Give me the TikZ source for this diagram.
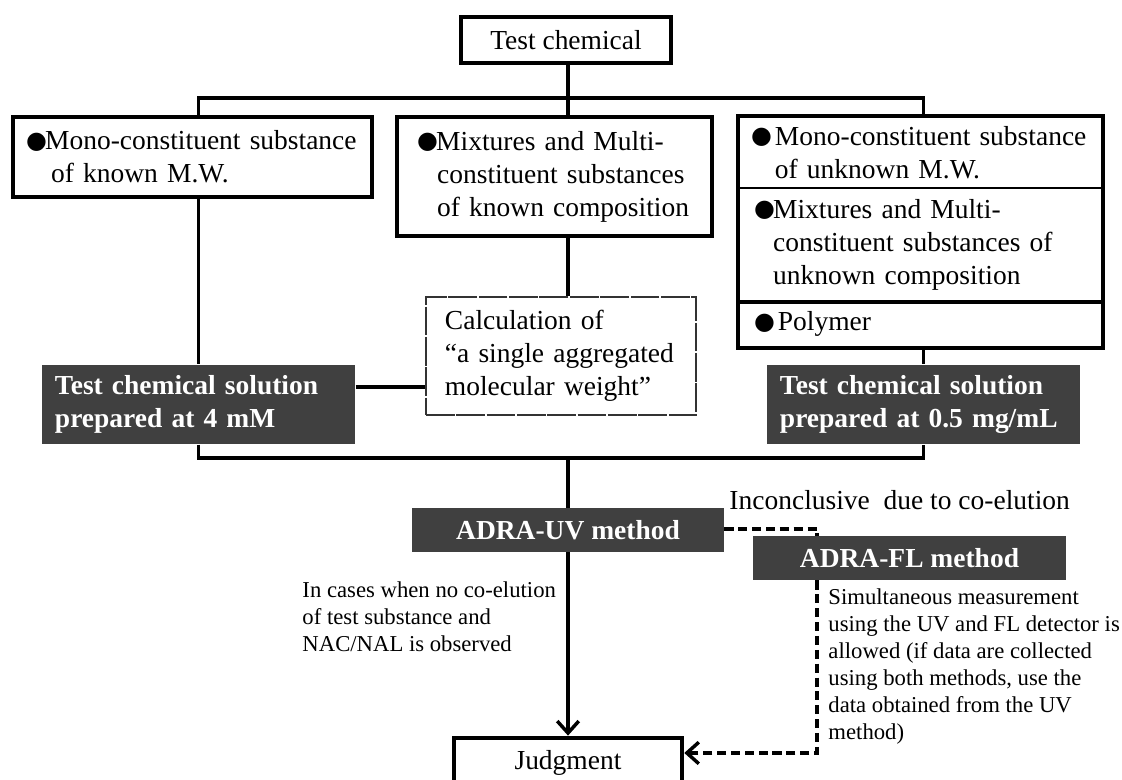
\documentclass[tikz,border=0pt]{standalone}
\usepackage{fontspec}
\setmainfont{Liberation Serif}
\newfontfamily\symfont{DejaVu Sans}
\usepackage{xcolor}
\usepackage{tikz}
\usetikzlibrary{arrows.meta, positioning, fit}
\definecolor{darkgrey}{HTML}{404040}
\newcommand{\boxfont}{\fontsize{11.5}{13.8}\selectfont}
\newcommand{\notefont}{\fontsize{9.5}{11.3}\selectfont}
\newcommand{\bul}{\makebox[8pt][l]{\raisebox{0.6pt}{\symfont\fontsize{10}{10}\selectfont ●}}}
\tikzset{
    plainbox/.style={rectangle, draw, line width=1.9pt, fill=white, inner sep=0pt, align=left, font=\boxfont},
    darkbox/.style={rectangle, fill=darkgrey, text=white, inner sep=0pt, align=left, font=\boxfont\bfseries},
    calcbox/.style={rectangle, draw=black!80, line width=0.5pt, dash pattern=on 12pt off 0.7pt, inner sep=0pt, align=left, font=\boxfont},
    partbox/.style={rectangle, draw, line width=1pt, inner sep=0pt, align=left, font=\boxfont, minimum width=151.9pt},
    note/.style={inner sep=0pt, align=left, font=\notefont},
    link/.style={line width=1.45pt},
    dashlink/.style={line width=1.45pt, dash pattern=on 3.8pt off 2pt},
}

\begin{document}
\begin{tikzpicture}[
      x=0.4184pt, y=-0.4184pt,
      arrow/.style={-{Straight Barb[length=5pt, width=9pt]}, line width=1.45pt}
    ]
    \useasboundingbox (0,0) rectangle (1122,780);

    \node[plainbox, align=center, minimum width=87.9pt, minimum height=19.2pt] (tc) at (566,40) {Test chemical};

    \node[plainbox, minimum width=150.2pt, minimum height=33.5pt, text width=139.3pt] (known) at (192.5,157)
      {\mbox{\bul{}Mono-constituent substance}\\\hspace*{10.5pt}of known M.W.};
    \node[plainbox, minimum width=131.8pt, minimum height=49.8pt, text width=115pt] (mix) at (554.5,176.5)
      {\bul{}Mixtures and Multi-\\\hspace*{8.4pt}constituent substances\\\hspace*{8.4pt}of known composition};

    % right column: three parts in one frame
    \node[partbox, minimum height=29.7pt, text width=141.8pt] (unkA) at (920.5,152.5)
      {\mbox{\bul\hspace{2pt}Mono-constituent substance}\\\hspace*{10pt}of unknown M.W.};
    \node[partbox, minimum height=47.3pt, text width=139.3pt] (unkB) at (920.5,244.5)
      {\bul{}Mixtures and Multi-\\\hspace*{8pt}constituent substances of\\\hspace*{8pt}unknown composition};
    \node[partbox, minimum height=19.2pt, text width=139.3pt] (unkC) at (920.5,324) {\bul\hspace{2pt}Polymer};
    \node[fit=(unkA)(unkC), draw, line width=1.9pt, inner sep=0pt] (unk) {};
    \draw[line width=1.9pt] (unkB.south west) -- (unkB.south east);

    \node[calcbox, minimum width=113pt, minimum height=49.4pt, text width=97.1pt] (calc) at (561,356)
      {Calculation of\\“a single aggregated\\molecular weight”};

    \node[darkbox, minimum width=131pt, minimum height=33.1pt, text width=120.1pt] (sol4) at (198.5,404.5)
      {Test chemical solution\\prepared at 4 mM};
    \node[darkbox, minimum width=131pt, minimum height=33.1pt, text width=120.1pt] (sol05) at (923.5,404.5)
      {Test chemical solution\\prepared at 0.5 mg/mL};

    \node[darkbox, align=center, minimum width=130.5pt, minimum height=18.4pt] (uv) at (568,530) {ADRA-UV method};
    \node[darkbox, align=center, minimum width=131pt, minimum height=18.4pt] (fl) at (909.5,558) {ADRA-FL method};
    \node[plainbox, align=center, minimum width=95.4pt, minimum height=21pt] (judg) at (568,763) {Judgment};

    \node[note, anchor=west] (nocoel) at (302,617)
      {In cases when no co-elution\\of test substance and\\NAC/NAL is observed};
    \node[inner sep=0pt, font=\boxfont, anchor=west] (incl) at (729,500) {Inconclusive\ \ due to co-elution};
    \node[note, anchor=west] (simul) at (828,666.5)
      {Simultaneous measurement\\using the UV and FL detector is\\allowed (if data are collected\\using both methods, use the\\data obtained from the UV\\method)};

    \coordinate (split) at (568,98);
    \coordinate (merge) at (568,458);
    \coordinate (kink) at (817,529);

    \draw[link] (tc.south -| split) -- (mix.north -| split);
    \draw[link] (known.north -| sol4) |- (split) -| (unk.north -| sol05);
    \draw[link] (known.south -| sol4) -- (sol4.north);
    \draw[link] (mix.south -| split) -- (calc.north -| split);
    \draw[link] ([yshift=7.3pt]sol4.east) -- ([yshift=7.3pt]sol4.east -| calc.west);
    \draw[link] (unk.south -| sol05) -- (sol05.north);
    \draw[link] (sol4.south) |- (merge) -| (sol05.south);
    \draw[link] (merge) -- (uv.north);
    \draw[arrow] (uv) -- (judg);

    \draw[dashlink] (uv.east |- kink) -- (kink) -- (kink |- fl.north);
    \draw[dashlink, arrow] (kink |- fl.south) |- ([yshift=4.2pt]judg.east);

\end{tikzpicture}
\end{document}
